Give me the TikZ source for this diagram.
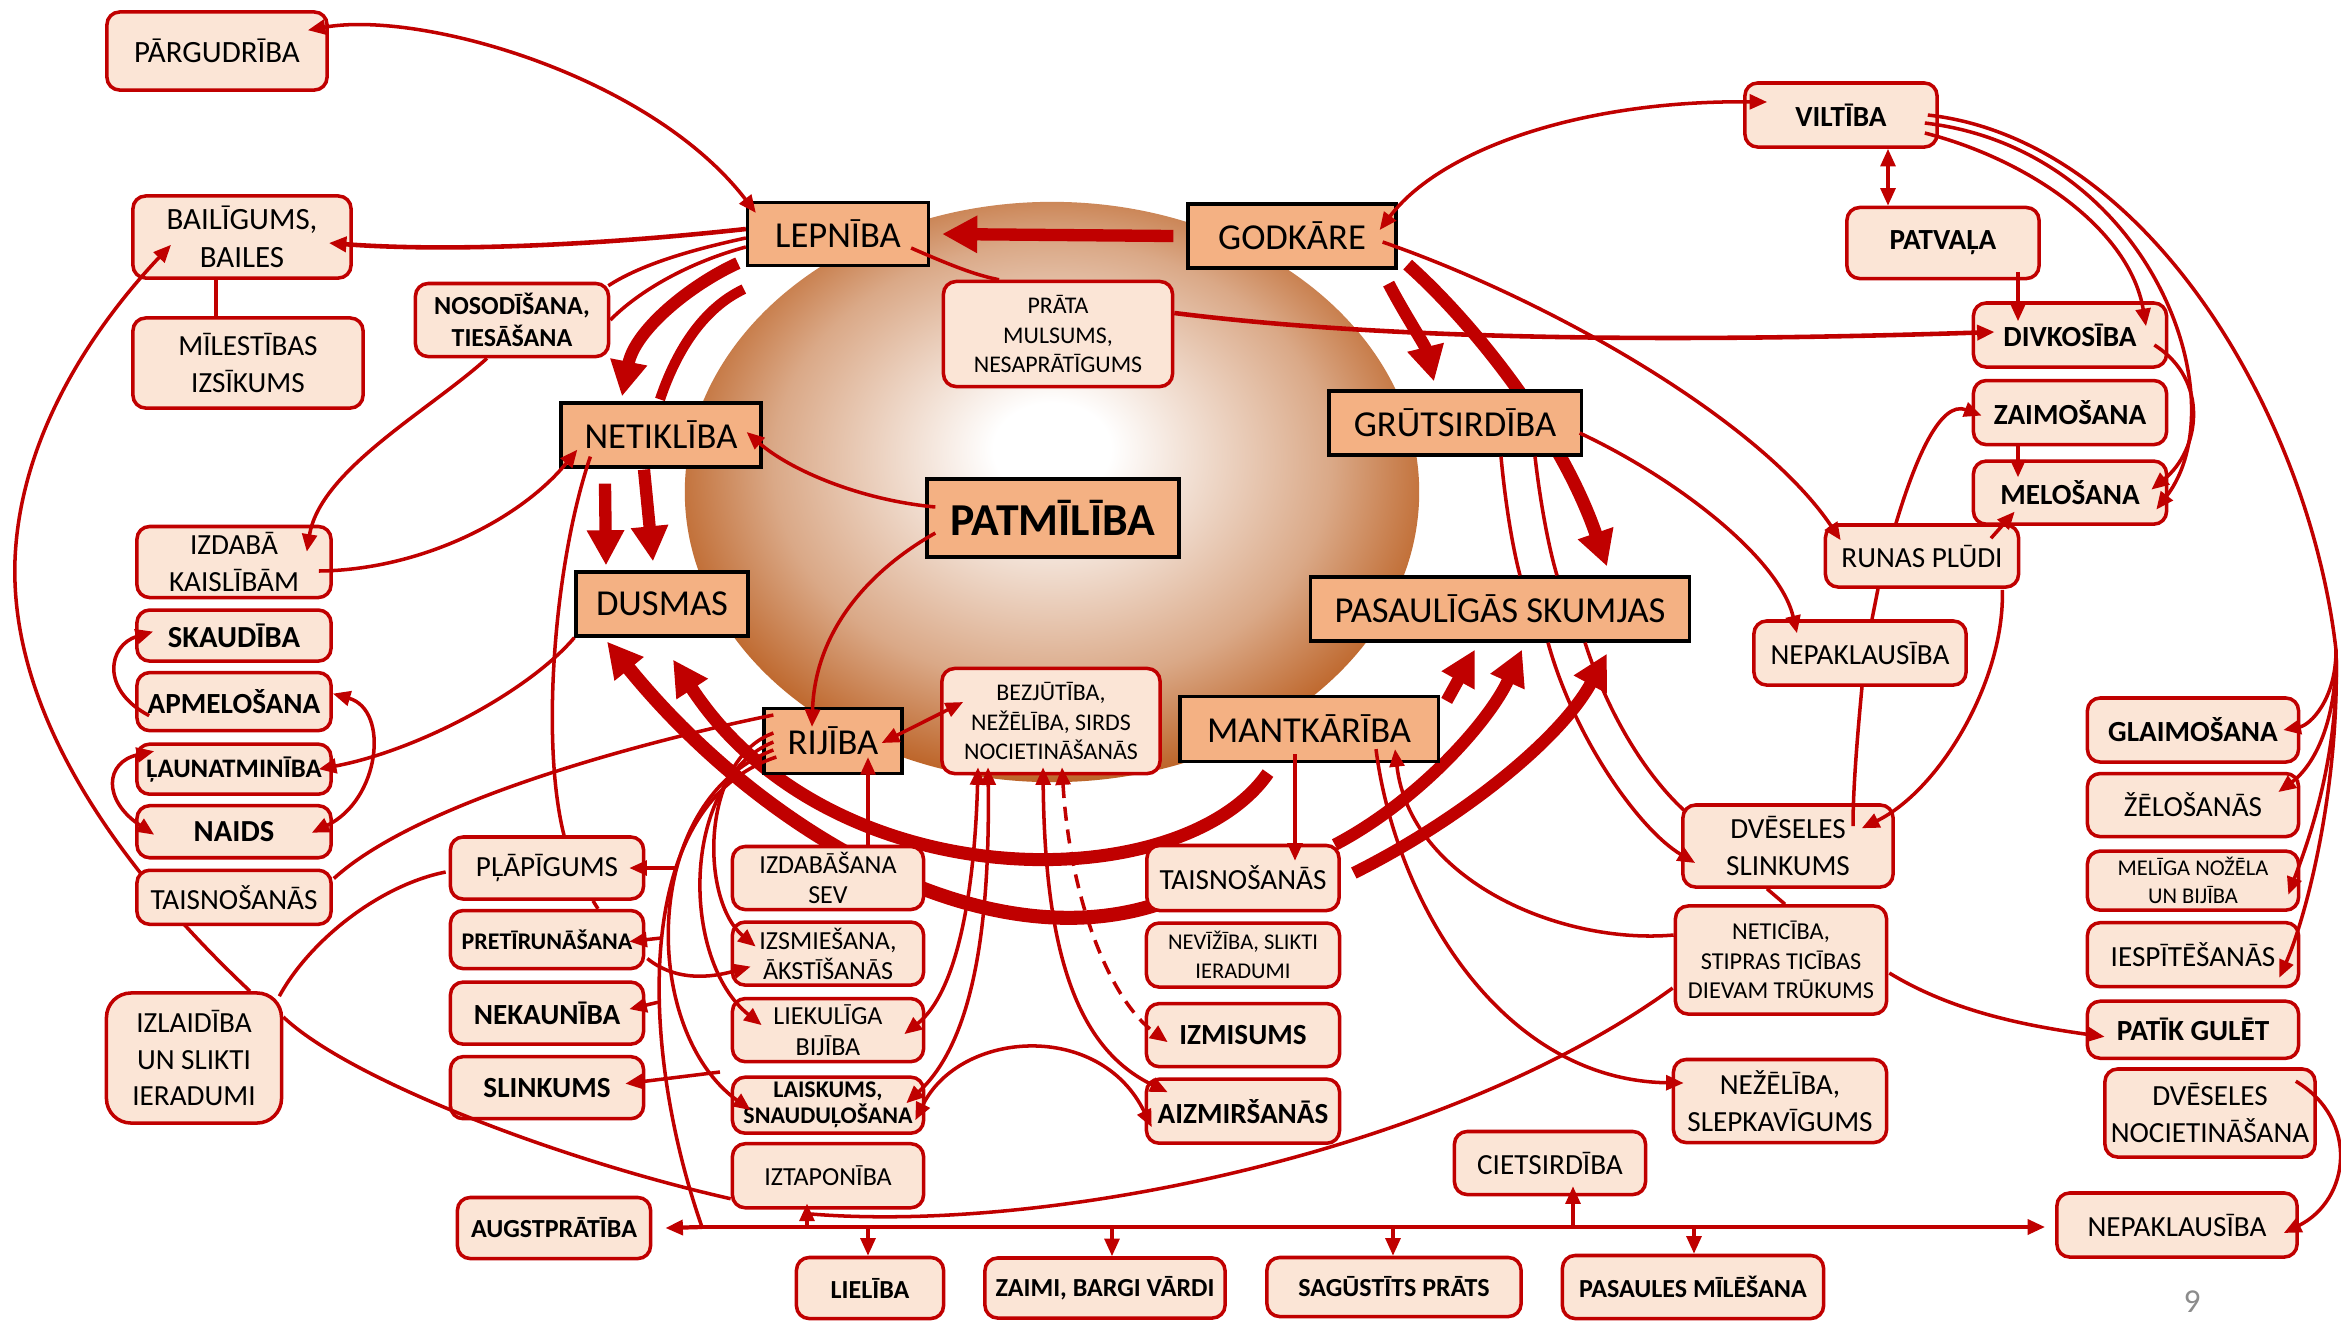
\documentclass[tikz,border=0pt]{standalone}
\usepackage{fontspec}
\setmainfont{Carlito}
\usetikzlibrary{positioning,arrows.meta}
\definecolor{dred}{HTML}{C00000}
\definecolor{orng}{HTML}{F4B183}
\definecolor{peach}{HTML}{FBE5D6}
\definecolor{brn}{HTML}{B5520F}
\colorlet{brnmid}{brn!50!white}
\pgfdeclareradialshading{sphere}{\pgfpoint{0bp}{4bp}}{color(0bp)=(white); color(4bp)=(white); color(19bp)=(brnmid); color(29bp)=(brn); color(50bp)=(brn)}
\pgfdeclarelayer{bg}
\pgfdeclarelayer{back}
\pgfsetlayers{bg,back,main}

\begin{document}
\begin{tikzpicture}[x=0.01cm,y=-0.01cm,node distance=0.1cm,
  sin/.style={rectangle,draw=black,line width=0.9pt,fill=orng,inner sep=0pt,font=\fontsize{10.4}{12}\selectfont},
  lb/.style={rectangle,rounded corners=3.6pt,draw=dred,line width=1pt,fill=peach,inner sep=0pt,align=center,font=\fontsize{8.3}{10.6}\selectfont},
  bf/.style={font=\bfseries\fontsize{8.3}{10}\selectfont},
  sm/.style={font=\fontsize{7.4}{8.6}\selectfont},
  xs/.style={font=\fontsize{6.8}{8.3}\selectfont},
  bs/.style={font=\bfseries\fontsize{7.4}{9}\selectfont},
  bx/.style={font=\bfseries\fontsize{6.8}{7.4}\selectfont},
  ln/.style={draw=dred,line width=1pt},
  ar/.style={draw=dred,line width=1pt,-{Triangle[length=5pt,width=4.2pt]}},
  dar/.style={draw=dred,line width=1pt,{Triangle[length=5pt,width=4.2pt]}-{Triangle[length=5pt,width=4.2pt]}},
  fat/.style={draw=dred,line width=3.5pt,-{Triangle[length=10pt,width=10pt]}},
  fatl/.style={draw=dred,line width=2.9pt}]

\begin{pgfonlayer}{bg}
\fill[white] (0,0) rectangle (2341,1320);
\shade[shading=sphere] (1052,492) ellipse [x radius=3.67cm, y radius=2.9cm];
\end{pgfonlayer}

\node[sin,minimum width=1.81cm,minimum height=.63cm] (lep) at (838,234) {LEPNĪBA};
\node[sin,minimum width=2.08cm,minimum height=.64cm] (godk) at (1292,236) {GODKĀRE};
\node[sin,minimum width=2cm,minimum height=.64cm] (netik) at (661,435) {NETIKLĪBA};
\node[sin,minimum width=2.52cm,minimum height=.64cm] (grut) at (1455,423) {GRŪTSIRDĪBA};
\node[sin,minimum width=2.52cm,minimum height=.78cm,font=\bfseries\fontsize{13}{15}\selectfont] (patm) at (1053,518) {PATMĪLĪBA};
\node[sin,minimum width=1.72cm,minimum height=.64cm] (dusm) at (662,604) {DUSMAS};
\node[sin,minimum width=3.79cm,minimum height=.64cm] (pasku) at (1500,609) {PASAULĪGĀS SKUMJAS};
\node[sin,minimum width=1.38cm,minimum height=.65cm] (rij) at (833,741) {RIJĪBA};
\node[sin,minimum width=2.58cm,minimum height=.65cm] (mant) at (1309,729) {MANTKĀRĪBA};

\node[lb,minimum width=2.2cm,minimum height=.78cm,font=\fontsize{8.8}{10.6}\selectfont] (pargud) at (217,51) {PĀRGUDRĪBA};
\node[lb,minimum width=2.18cm,minimum height=.82cm,font=\fontsize{8.8}{10.8}\selectfont] (bail) at (242,237) {BAILĪGUMS,\\BAILES};
\node[lb,minimum width=2.3cm,minimum height=.9cm] (milest) at (248,363) {MĪLESTĪBAS\\IZSĪKUMS};
\node[lb,bs,minimum width=1.93cm,minimum height=.73cm] (nosod) at (512,320) {NOSODĪŠANA,\\TIESĀŠANA};
\node[lb,xs,minimum width=2.29cm,minimum height=1.05cm] (prata) at (1058,334) {PRĀTA\\MULSUMS,\\NESAPRĀTĪGUMS};

\node[lb,minimum width=1.94cm,minimum height=.71cm] (izdk) at (234,562) {IZDABĀ\\KAISLĪBĀM};
\node[lb,minimum width=1.94cm,minimum height=.51cm,below=.09cm of izdk,font=\bfseries\fontsize{8.7}{10}\selectfont] (skaud) {SKAUDĪBA};
\node[lb,bf,minimum width=1.94cm,minimum height=.58cm,below=.08cm of skaud] (apmel) {APMELOŠANA};
\node[lb,minimum width=1.94cm,minimum height=.5cm,below=.1cm of apmel,font=\bfseries\fontsize{7.6}{9}\selectfont] (launat) {ĻAUNATMINĪBA};
\node[lb,minimum width=1.94cm,minimum height=.52cm,below=.08cm of launat,font=\bfseries\fontsize{8.7}{10}\selectfont] (naids) {NAIDS};
\node[lb,minimum width=1.94cm,minimum height=.54cm,below=.09cm of naids] (taisl) {TAISNOŠANĀS};
\node[lb,rounded corners=7pt,minimum width=1.75cm,minimum height=1.3cm,font=\fontsize{8.3}{10.3}\selectfont] (izlaid) at (194,1058) {IZLAIDĪBA\\UN SLIKTI\\IERADUMI};

\node[lb,minimum width=1.93cm,minimum height=.62cm] (plap) at (547,868) {PĻĀPĪGUMS};
\node[lb,bx,minimum width=1.93cm,minimum height=.58cm,below=.08cm of plap] (pretir) {PRETĪRUNĀŠANA};
\node[lb,bf,minimum width=1.93cm,minimum height=.62cm,below=.1cm of pretir] (nekaun) {NEKAUNĪBA};
\node[lb,bf,minimum width=1.93cm,minimum height=.62cm,below=.09cm of nekaun] (slink) {SLINKUMS};
\node[lb,bs,minimum width=1.93cm,minimum height=.61cm] (augst) at (554,1228) {AUGSTPRĀTĪBA};

\node[lb,sm,minimum width=1.91cm,minimum height=.63cm] (izdsev) at (828,878) {IZDABĀŠANA\\SEV};
\node[lb,sm,minimum width=1.91cm,minimum height=.63cm,below=.09cm of izdsev] (izsm) {IZSMIEŠANA,\\ĀKSTĪŠANĀS};
\node[lb,sm,minimum width=1.91cm,minimum height=.63cm,below=.1cm of izsm] (liek) {LIEKULĪGA\\BIJĪBA};
\node[lb,bx,minimum width=1.91cm,minimum height=.56cm,below=.12cm of liek] (laisk) {LAISKUMS,\\SNAUDUĻOŠANA};
\node[lb,sm,minimum width=1.91cm,minimum height=.64cm,below=.07cm of laisk] (iztap) {IZTAPONĪBA};

\node[lb,xs,minimum width=2.18cm,minimum height=1.05cm] (bezj) at (1051,721) {BEZJŪTĪBA,\\NEŽĒLĪBA, SIRDS\\NOCIETINĀŠANĀS};

\node[lb,minimum width=1.92cm,minimum height=.65cm] (taism) at (1243,878) {TAISNOŠANĀS};
\node[lb,minimum width=1.93cm,minimum height=.64cm,below=.09cm of taism,font=\fontsize{6.4}{8.2}\selectfont] (neviz) {NEVĪŽĪBA, SLIKTI\\IERADUMI};
\node[lb,bf,minimum width=1.93cm,minimum height=.63cm,below=.13cm of neviz] (izmis) {IZMISUMS};
\node[lb,bf,minimum width=1.93cm,minimum height=.64cm,below=.09cm of izmis] (aizm) {AIZMIRŠANĀS};
\node[lb,minimum width=1.91cm,minimum height=.63cm] (ciets) at (1550,1163) {CIETSIRDĪBA};

\node[lb,bs,minimum width=1.47cm,minimum height=.61cm] (lielib) at (870,1288) {LIELĪBA};
\node[lb,bs,minimum width=2.4cm,minimum height=.6cm] (zaimi) at (1105,1288) {ZAIMI, BARGI VĀRDI};
\node[lb,bs,minimum width=2.54cm,minimum height=.59cm] (sagust) at (1394,1287) {SAGŪSTĪTS PRĀTS};
\node[lb,bs,minimum width=2.61cm,minimum height=.63cm] (pasmil) at (1693,1287) {PASAULES MĪLĒŠANA};

\node[lb,bf,minimum width=1.92cm,minimum height=.64cm] (vilt) at (1841,115) {VILTĪBA};
\node[lb,bf,minimum width=1.92cm,minimum height=.71cm] (patv) at (1943,243) {PATVAĻA};
\node[lb,bf,minimum width=1.93cm,minimum height=.64cm] (divk) at (2070,335) {DIVKOSĪBA};
\node[lb,bf,minimum width=1.93cm,minimum height=.64cm,below=.1cm of divk] (zaimos) {ZAIMOŠANA};
\node[lb,bf,minimum width=1.93cm,minimum height=.63cm,below=.13cm of zaimos] (melos) {MELOŠANA};
\node[lb,minimum width=1.93cm,minimum height=.62cm] (runas) at (1922,556) {RUNAS PLŪDI};
\node[lb,minimum width=2.12cm,minimum height=.64cm] (nepak) at (1860,653) {NEPAKLAUSĪBA};
\node[lb,minimum width=2.1cm,minimum height=.82cm] (dvsl) at (1788,846) {DVĒSELES\\SLINKUMS};
\node[lb,minimum width=2.11cm,minimum height=1.08cm,font=\fontsize{6.9}{8.3}\selectfont] (netic) at (1781,960) {NETICĪBA,\\STIPRAS TICĪBAS\\DIEVAM TRŪKUMS};
\node[lb,minimum width=2.13cm,minimum height=.83cm] (nezel) at (1780,1101) {NEŽĒLĪBA,\\SLEPKAVĪGUMS};

\node[lb,bf,minimum width=2.11cm,minimum height=.64cm] (glaim) at (2193,730) {GLAIMOŠANA};
\node[lb,minimum width=2.11cm,minimum height=.63cm,below=.08cm of glaim] (zelo) {ŽĒLOŠANĀS};
\node[lb,minimum width=2.11cm,minimum height=.59cm,below=.11cm of zelo,font=\fontsize{6.4}{8}\selectfont] (meliga) {MELĪGA NOŽĒLA\\UN BIJĪBA};
\node[lb,minimum width=2.11cm,minimum height=.64cm,below=.09cm of meliga] (iespit) {IESPĪTĒŠANĀS};
\node[lb,bf,minimum width=2.11cm,minimum height=.57cm,below=.11cm of iespit] (patik) {PATĪK GULĒT};
\node[lb,minimum width=2.1cm,minimum height=.88cm] (dvnoc) at (2210,1113) {DVĒSELES\\NOCIETINĀŠANA};
\node[lb,minimum width=2.4cm,minimum height=.64cm] (nepakb) at (2177,1225) {NEPAKLAUSĪBA};

\node[text=black!45,font=\fontsize{9.5}{10}\selectfont] (pg) at (2192,1302) {9};

\coordinate (bar) at (702,1227);
\coordinate (s1) at (677,868);
\coordinate (s2) at (661,938);
\coordinate (s3) at (659,1002);
\coordinate (s4) at (720,1072);
\coordinate (lbend) at (15,560);
\coordinate (jv) at (2336,650);
\coordinate (b1) at (807,1227);
\coordinate (b2) at (868,1227);
\coordinate (b3) at (1112,1227);
\coordinate (b4) at (1393,1227);
\coordinate (b5) at (1573,1227);
\coordinate (b6) at (1694,1227);

\begin{pgfonlayer}{back}
\draw[fat] ([shift={(-13,0)}]godk.west) -- ([shift={(12,0)}]lep.east);
\draw[fat] ([shift={(-8,-4)}]lep.south west) .. controls (690,285) and (635,330) .. ([shift={(-39,-5)}]netik.north);
\draw[fatl] ([shift={(-1,-2)}]netik.north) .. controls (680,340) and (710,305) .. ([shift={(-2,22)}]lep.south west);
\draw[fat] ([shift={(-56,15)}]netik.south) -- ([shift={(-56,-5)}]dusm.north);
\draw[fat] ([shift={(-17,1)}]netik.south) -- ([shift={(-9,-9)}]dusm.north);
\draw[fat,line width=4pt] ([shift={(10,27)}]taism.west) .. controls (980,960) and (760,830) .. ([shift={(-55,4)}]dusm.south);
\draw[fat,line width=3.7pt] ([shift={(-41,10)}]mant.south) .. controls (1180,900) and (830,900) .. ([shift={(11,22)}]dusm.south);
\draw[fat] ([shift={(7,6)}]mant.north east) -- ([shift={(-25,7)}]pasku.south);
\draw[fat] ([shift={(-6,1)}]taism.north east) .. controls (1420,800) and (1490,720) .. ([shift={(22,7)}]pasku.south);
\draw[fat] ([shift={(13,-5)}]taism.east) .. controls (1460,820) and (1560,740) .. ([shift={(107,11)}]pasku.south);
\draw[fat] ([shift={(-9,14)}]godk.south east) .. controls (1405,315) and (1425,345) .. ([shift={(-21,-8)}]grut.north);
\draw[fat,line width=3.7pt] ([shift={(10,-5)}]godk.south east) .. controls (1470,320) and (1560,430) .. ([shift={(107,-9)}]pasku.north);
\draw[ln] ([shift={(56,0)}]izlaid.north) .. controls (100,850) and (10,700) .. (lbend);
\end{pgfonlayer}

\draw[ln] ([shift={(-26,0)}]bail.south) -- ([shift={(-32,0)}]milest.north);
\draw[dar] ([shift={(-21,20)}]pargud.north east) .. controls (420,10) and (650,75) .. ([shift={(10,12)}]lep.north west);
\draw[ar,line width=1.3pt] ([shift={(0,-5)}]lep.west) .. controls (600,245) and (450,252) .. ([shift={(-24,6)}]bail.east);
\draw[ln] ([shift={(0,4)}]lep.west) .. controls (690,250) and (640,265) .. ([shift={(-2,4)}]nosod.north east);
\draw[ln] ([shift={(0,13)}]lep.west) .. controls (690,262) and (640,290) .. (nosod.east);
\draw[ar] ([shift={(-25,0)}]nosod.south) .. controls (430,410) and (320,470) .. ([shift={(-26,27)}]izdk.north east);
\draw[ar] ([shift={(-14,9)}]izdk.east) .. controls (420,570) and (520,520) .. ([shift={(18,-19)}]netik.south west);
\draw[ar] ([shift={(10,-11)}]patm.west) .. controls (860,500) and (790,470) .. ([shift={(-16,-3)}]netik.east);
\draw[ar] ([shift={(10,15)}]patm.west) .. controls (870,570) and (815,630) .. ([shift={(-21,20)}]rij.north);
\draw[ln] ([shift={(31,-12)}]netik.south west) .. controls (555,560) and (540,740) .. ([shift={(17,0)}]plap.north);
\draw[ln] ([shift={(46,0)}]plap.south) -- ([shift={(51,0)}]pretir.north);
\draw[ar] (dusm.south west) .. controls (530,690) and (420,750) .. ([shift={(-14,0)}]launat.east);
\draw[ar] ([shift={(14,14)}]apmel.west) .. controls (100,690) and (108,645) .. ([shift={(18,-4)}]skaud.west);
\draw[dar] ([shift={(0,-8)}]apmel.east) .. controls (390,710) and (380,800) .. ([shift={(-21,1)}]naids.east);
\draw[dar] ([shift={(19,-18)}]launat.west) .. controls (105,762) and (102,800) .. ([shift={(19,3)}]naids.west);
\draw[ar] (lbend) .. controls (20,430) and (100,320) .. ([shift={(-71,-35)}]bail.south);
\draw[ln] ([shift={(-4,5)}]izlaid.north east) .. controls (310,940) and (380,885) .. ([shift={(-3,4)}]plap.west);
\draw[ln] ([shift={(0,-41)}]izlaid.east) .. controls (350,1080) and (560,1160) .. ([shift={(0,23)}]iztap.west);
\draw[ln] ([shift={(-23,4)}]iztap.south) .. controls (1050,1235) and (1450,1150) .. ([shift={(-1,28)}]netic.west);

\draw[ln] ([shift={(11,-26)}]rij.west) .. controls (650,740) and (420,800) .. ([shift={(1,10)}]taisl.north east);
\draw[ar] ([shift={(11,-8)}]rij.west) .. controls (700,760) and (700,900) .. ([shift={(25,-7)}]izsm.west);
\draw[ar] ([shift={(11,1)}]rij.west) .. controls (680,780) and (680,960) .. ([shift={(31,-5)}]liek.west);
\draw[ar] ([shift={(11,9)}]rij.west) .. controls (640,800) and (640,1030) .. ([shift={(20,5)}]laisk.west);
\draw[ln] ([shift={(14,16)}]rij.west) .. controls (630,805) and (640,1050) .. (bar);
\draw[ar] (s1) -- ([shift={(-16,0)}]plap.east);
\draw[ar] (s2) -- ([shift={(-16,2)}]pretir.east);
\draw[ar] (s3) -- ([shift={(-16,-4)}]nekaun.east);
\draw[ar] (s4) -- ([shift={(-20,-4)}]slink.east);
\draw[ar] ([shift={(2,19)}]pretir.east) .. controls (680,985) and (720,975) .. ([shift={(20,13)}]izsm.west);
\draw[dar] ([shift={(-22,2)}]rij.east) -- ([shift={(23,-19)}]bezj.west);
\draw[ar] ([shift={(40,0)}]izdsev.north) -- ([shift={(35,-18)}]rij.south);
\draw[ln] ([shift={(-19,14)}]lep.east) .. controls (950,265) and (975,275) .. ([shift={(-59,0)}]prata.north);

\draw[dar] ([shift={(-73,-8)}]bezj.south) .. controls (975,880) and (960,990) .. ([shift={(-21,4)}]liek.east);
\draw[dar] ([shift={(-63,-8)}]bezj.south) .. controls (990,920) and (975,1040) .. ([shift={(-19,-2)}]laisk.east);
\draw[dar] ([shift={(-8,-8)}]bezj.south) .. controls (1045,960) and (1080,1050) .. ([shift={(23,-19)}]aizm.west);
\draw[dar,dash pattern=on 4pt off 2.5pt] ([shift={(11,-8)}]bezj.south) .. controls (1070,900) and (1110,1000) .. ([shift={(23,7)}]izmis.west);
\draw[dar] ([shift={(-10,15)}]laisk.east) .. controls (960,1030) and (1100,1020) .. ([shift={(7,16)}]aizm.west);

\draw[ar] ([shift={(-14,-9)}]mant.south) -- ([shift={(52,17)}]taism.north);
\draw[ar] ([shift={(67,-14)}]mant.south) .. controls (1395,900) and (1500,1080) .. ([shift={(12,-18)}]nezel.west);
\draw[ar] ([shift={(0,-25)}]netic.west) .. controls (1560,945) and (1410,880) .. ([shift={(86,-14)}]mant.south);
\draw[ln] ([shift={(-21,0)}]dvsl.south) -- ([shift={(4,0)}]netic.north);
\draw[ar] ([shift={(1,13)}]netic.east) .. controls (1950,1010) and (2020,1025) .. ([shift={(19,7)}]patik.west);

\draw[ln] ([shift={(46,0)}]grut.south) .. controls (1505,500) and (1512,545) .. ([shift={(20,0)}]pasku.north);
\draw[ln] ([shift={(80,0)}]grut.south) .. controls (1540,500) and (1548,545) .. ([shift={(57,0)}]pasku.north);
\draw[ar] ([shift={(48,0)}]pasku.south) .. controls (1575,740) and (1640,830) .. ([shift={(14,17)}]dvsl.west);
\draw[ln] ([shift={(85,0)}]pasku.south) .. controls (1610,720) and (1650,780) .. ([shift={(5,9)}]dvsl.north west);
\draw[ar] ([shift={(-3,10)}]grut.east) .. controls (1680,480) and (1780,560) .. ([shift={(-63,14)}]nepak.north);
\draw[ar] ([shift={(-15,6)}]godk.east) .. controls (1550,300) and (1760,420) .. ([shift={(17,17)}]runas.north west);
\draw[ar,line width=1.3pt] ([shift={(0,-21)}]prata.east) .. controls (1350,335) and (1600,345) .. ([shift={(23,-3)}]divk.west);

\draw[dar] ([shift={(-18,-6)}]godk.east) .. controls (1440,150) and (1580,100) .. ([shift={(24,-13)}]vilt.west);
\draw[dar] ([shift={(47,0)}]vilt.south) -- ([shift={(-55,0)}]patv.north);
\draw[ar] ([shift={(75,-8)}]patv.south) -- ([shift={(-52,20)}]divk.north);
\draw[ar] ([shift={(-14,18)}]vilt.east) .. controls (2030,160) and (2130,230) .. ([shift={(76,25)}]divk.north);
\draw[ar] ([shift={(-14,8)}]vilt.east) .. controls (2150,150) and (2240,400) .. ([shift={(-12,17)}]melos.east);
\draw[ar] ([shift={(-14,10)}]divk.east) .. controls (2210,380) and (2200,450) .. ([shift={(-17,-3)}]melos.east);
\draw[ln] ([shift={(-11,0)}]vilt.east) .. controls (2150,140) and (2310,420) .. (jv);
\draw[ar] (jv) .. controls (2336,700) and (2310,725) .. ([shift={(-17,0)}]glaim.east);
\draw[ar] (jv) .. controls (2337,720) and (2315,765) .. ([shift={(-22,-13)}]zelo.east);
\draw[ar] (jv) .. controls (2340,760) and (2305,850) .. ([shift={(-12,14)}]meliga.east);
\draw[ar] (jv) .. controls (2340,790) and (2305,920) .. ([shift={(-21,23)}]iespit.east);
\draw[ar] ([shift={(-52,0)}]zaimos.south) -- ([shift={(-52,18)}]melos.north);
\draw[ar] ([shift={(69,15)}]runas.north) -- ([shift={(43,19)}]melos.west);
\draw[ar] ([shift={(-26,0)}]runas.north) .. controls (1915,460) and (1940,400) .. ([shift={(10,3)}]zaimos.west);
\draw[ln] ([shift={(-44,0)}]runas.south) -- ([shift={(12,0)}]nepak.north);
\draw[ln] ([shift={(2,0)}]nepak.south) .. controls (1857,740) and (1853,790) .. ([shift={(65,23)}]dvsl.north);
\draw[ar] ([shift={(-18,1)}]runas.south east) .. controls (2005,680) and (1940,790) .. ([shift={(-33,25)}]dvsl.north east);
\draw[ar] ([shift={(-21,14)}]dvnoc.north east) .. controls (2360,1120) and (2350,1200) .. ([shift={(-15,8)}]nepakb.east);

\draw[ar,line width=1.2pt] (bar) -- ([shift={(13,0)}]augst.east);
\draw[ar,line width=1.2pt] (bar) -- ([shift={(-10,2)}]nepakb.west);
\draw[ar] (b1) -- ([shift={(-21,-6)}]iztap.south);
\draw[ar] (b2) -- ([shift={(-2,0)}]lielib.north);
\draw[ar] (b3) -- ([shift={(7,0)}]zaimi.north);
\draw[ar] (b4) -- ([shift={(-1,0)}]sagust.north);
\draw[ar] (b5) -- ([shift={(23,-10)}]ciets.south);
\draw[ar] (b6) -- ([shift={(1,0)}]pasmil.north);

\pgfresetboundingbox
\useasboundingbox (0,0) rectangle (2341,1320);
\end{tikzpicture}
\end{document}
